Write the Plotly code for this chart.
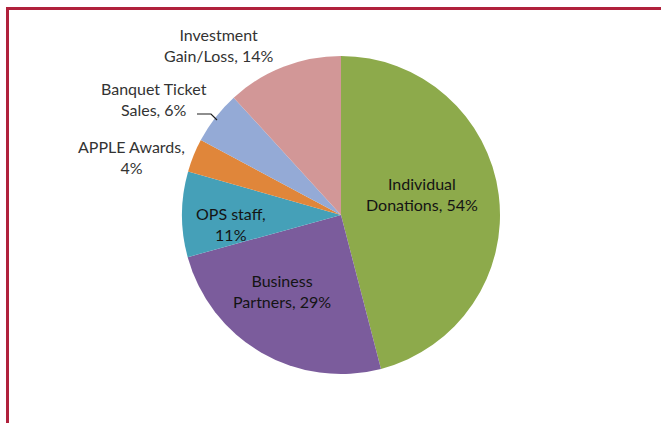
import plotly.graph_objects as go

# Data (slice sizes; labels as printed)
categories = ["Individual Donations", "Business Partners", "OPS staff",
              "APPLE Awards", "Banquet Ticket Sales", "Investment Gain/Loss"]
values = [46.0, 24.8, 8.7, 3.4, 5.4, 11.8]
label_texts = ["Individual<br>Donations, 54%", "Business<br>Partners, 29%",
               "OPS staff,<br>11%", "APPLE Awards,<br>4%",
               "Banquet Ticket<br>Sales, 6%", "Investment<br>Gain/Loss, 14%"]
colors = ["#8DAA4B", "#7B5C9C", "#45A0B8", "#E0863A", "#94AAD6", "#D29797"]

W, H = 661, 423
cx, cy, r = 341, 215, 159

fig = go.Figure(go.Pie(
    labels=categories, values=values, sort=False, direction="clockwise",
    rotation=0, textinfo="none", hoverinfo="label+percent",
    marker=dict(colors=colors, line=dict(width=0)),
    domain=dict(x=[(cx - r) / W, (cx + r) / W], y=[(H - cy - r) / H, (H - cy + r) / H]),
    showlegend=False,
))

# label positions (pixel centres)
label_pos = [(422, 194), (282, 290.5), (231, 223.5), (131, 157), (154, 99), (218, 45)]
inside = [True, True, True, False, False, False]
anns = []
for t, (x, y), ins in zip(label_texts, label_pos, inside):
    anns.append(dict(x=x / W, y=1 - y / H, xref="paper", yref="paper", text=t,
                     showarrow=False, xanchor="center", yanchor="middle", align="center",
                     font=dict(family="Lato, sans-serif", size=16,
                               color="#141414" if ins else "#333333")))

def px(x, y):
    return f"{x / W:.5f},{1 - y / H:.5f}"

shapes = [
    dict(type="line", xref="paper", yref="paper", x0=6 / W, x1=1, y0=1 - 8.5 / H, y1=1 - 8.5 / H,
         line=dict(color="#B0213C", width=3)),
    dict(type="line", xref="paper", yref="paper", x0=7.5 / W, x1=7.5 / W, y0=1 - 7 / H, y1=0,
         line=dict(color="#B0213C", width=3)),
    dict(type="path", xref="paper", yref="paper",
         path=f"M {px(197, 114)} L {px(211, 114)} L {px(217, 120)}",
         line=dict(color="#1e1e1e", width=1.2)),
]

fig.update_layout(width=W, height=H, margin=dict(l=0, r=0, t=0, b=0),
                  paper_bgcolor="white", plot_bgcolor="white",
                  annotations=anns, shapes=shapes)
fig.write_html("out.html", config={"displayModeBar": False},
               post_script="document.body.style.margin='0';document.body.style.overflow='hidden';")
